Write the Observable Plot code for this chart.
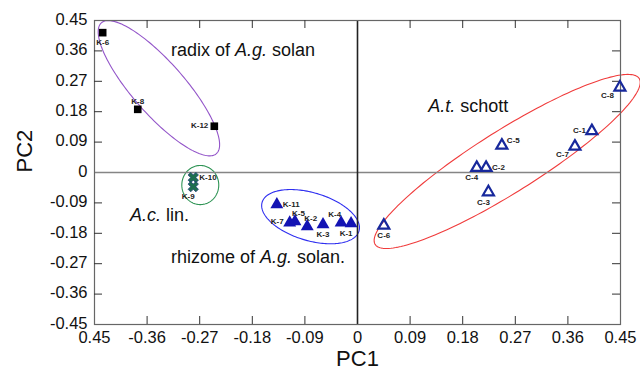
<!DOCTYPE html>
<html><head><meta charset="utf-8">
<script src="https://cdn.jsdelivr.net/npm/d3@7"></script>
<script src="https://cdn.jsdelivr.net/npm/@observablehq/plot@0.6"></script>
<style>body{margin:0;background:#fff} svg{display:block}</style>
</head><body><div id="chart"></div>
<script>
// ---- tick values and labels (first x label is "0.45" in the original) ----
const xTicks = [-0.45,-0.36,-0.27,-0.18,-0.09,0,0.09,0.18,0.27,0.36,0.45];
const xTickLabels = ["0.45","-0.36","-0.27","-0.18","-0.09","0","0.09","0.18","0.27","0.36","0.45"];
const yTicks = [-0.45,-0.36,-0.27,-0.18,-0.09,0,0.09,0.18,0.27,0.36,0.45];
const yTickLabels = ["-0.45","-0.36","-0.27","-0.18","-0.09","0","0.09","0.18","0.27","0.36","0.45"];

// ---- samples ----
const radixNames = ["K-6","K-8","K-12"];
const radixPC1 = [-0.436,-0.376,-0.245];
const radixPC2 = [0.414,0.187,0.137];

const acNames = ["K-10","K-9"];
const acPC1 = [-0.281,-0.281];
const acPC2 = [-0.015,-0.042];

const rhizomeNames = ["K-11","K-7","K-5","K-2","K-3","K-4","K-1"];
const rhizomePC1 = [-0.138,-0.116,-0.107,-0.086,-0.059,-0.028,-0.011];
const rhizomePC2 = [-0.095,-0.149,-0.145,-0.160,-0.154,-0.149,-0.151];

const atNames = ["C-6","C-3","C-4","C-2","C-5","C-7","C-1","C-8"];
const atPC1 = [0.045,0.224,0.204,0.220,0.247,0.372,0.401,0.449];
const atPC2 = [-0.157,-0.058,0.014,0.014,0.080,0.077,0.123,0.252];

// where each sample label sits relative to its marker
const labelPlace = {
  "K-6":"below","K-8":"above","K-12":"left","K-10":"right","K-9":"sw",
  "K-11":"right","K-7":"left","K-5":"n","K-2":"n","K-3":"below","K-4":"nw","K-1":"sw",
  "C-6":"below","C-3":"sw","C-4":"sw","C-2":"right","C-5":"ne","C-7":"swEnd","C-1":"left","C-8":"swEnd"
};

// ---- group ellipses: centre, half-axis vectors (data units) ----
const ellipseNames = ["radix","Ac","rhizome","At"];
const ellipseCX = [-0.3398,-0.269,-0.0803,0.2561];
const ellipseCY = [0.2495,-0.0371,-0.1307,0.0327];
const ellipseU = [[0.0984,-0.1936],[0.0316,0],[0.0829,-0.0425],[0.2259,0.2456]];
const ellipseV = [[-0.0333,-0.0511],[0,0.0579],[-0.0115,-0.0681],[0.0281,-0.0781]];
const ellipseColors = ["#9355c9","#2f9455","#2f2ff0","#f03c3c"];

// ---- group labels ----
const groupText = ["radix of *A.g.* solan","*A.t.* schott","*A.c.* lin.","rhizome of *A.g.* solan."];
const groupPC1 = [-0.3193,0.1212,-0.3893,-0.3193];
const groupPC2 = [0.3609,0.196,-0.1277,-0.2495];

// ---- build tables ----
const mk = (names, xs, ys) => names.map((n,i)=>({name:n, x:xs[i], y:ys[i], place:labelPlace[n]}));
const radix = mk(radixNames, radixPC1, radixPC2);
const ac = mk(acNames, acPC1, acPC2);
const rhizome = mk(rhizomeNames, rhizomePC1, rhizomePC2);
const at = mk(atNames, atPC1, atPC2);
const allPts = [...radix, ...ac, ...rhizome, ...at];

const ellipseOutline = i => d3.range(0, 361, 2).map(a => {
  const t = a*Math.PI/180, c = Math.cos(t), s = Math.sin(t);
  return {x: ellipseCX[i] + c*ellipseU[i][0] + s*ellipseV[i][0],
          y: ellipseCY[i] + c*ellipseU[i][1] + s*ellipseV[i][1]};
});

const xSymbol = {draw(ctx, size){
  const r = Math.sqrt(size/5)/2, k = Math.SQRT1_2;
  const p = [[-3*r,-r],[-r,-r],[-r,-3*r],[r,-3*r],[r,-r],[3*r,-r],[3*r,r],[r,r],[r,3*r],[-r,3*r],[-r,r],[-3*r,r]];
  p.forEach(([x,y],i)=>{const X=(x-y)*k, Y=(x+y)*k; i?ctx.lineTo(X,Y):ctx.moveTo(X,Y);});
  ctx.closePath();
}};

const places = {
  below:{textAnchor:"middle",dx:0,dy:10},
  above:{textAnchor:"middle",dx:0,dy:-8},
  left:{textAnchor:"end",dx:-6,dy:-1},
  right:{textAnchor:"start",dx:6,dy:0},
  n:{textAnchor:"start",dx:-3,dy:-8},
  ne:{textAnchor:"start",dx:5,dy:-5},
  nw:{textAnchor:"end",dx:0,dy:-8},
  sw:{textAnchor:"middle",dx:-5,dy:10},
  swEnd:{textAnchor:"end",dx:-6,dy:8}
};

const FONT = "Arial, 'Liberation Sans', Helvetica, sans-serif";
const inner = xTicks.filter(v => Math.abs(v) < 0.449 && v !== 0);
const innerY = yTicks.filter(v => Math.abs(v) < 0.449 && v !== 0);
const W = 640, H = 378, ML = 94, MR = 20, MT = 20, MB = 54;
const PW = W-ML-MR, PH = H-MT-MB;

const marks = [];
ellipseNames.forEach((n,i) => marks.push(Plot.line(ellipseOutline(i), {x:"x", y:"y", stroke: ellipseColors[i], strokeWidth: 1.1})));
marks.push(
  Plot.ruleY([0], {stroke:"#858585", strokeWidth:1.7}),
  Plot.ruleX([0], {stroke:"#222", strokeWidth:1.6}),
  Plot.frame({stroke:"#666", strokeWidth:1.2}),
  Plot.tickX(inner, {x:d=>d, insetTop: PH-8, stroke:"#333"}),
  Plot.tickX(inner, {x:d=>d, insetBottom: PH-8, stroke:"#333"}),
  Plot.tickY(innerY, {y:d=>d, insetRight: PW-8, stroke:"#333"}),
  Plot.tickY(innerY, {y:d=>d, insetLeft: PW-8, stroke:"#333"}),
  Plot.text(xTicks.map((v,i)=>({v, t:xTickLabels[i]})), {x:"v", text:"t", frameAnchor:"bottom", dy:18, fontSize:16.5, fill:"#111"}),
  Plot.text(yTicks.map((v,i)=>({v, t:yTickLabels[i]})), {y:"v", text:"t", frameAnchor:"left", dx:-7, dy:-1, textAnchor:"end", fontSize:16.5, fill:"#111"}),
  Plot.text(["PC1"], {frameAnchor:"bottom", dy:41, fontSize:22, fill:"#111"}),
  Plot.text(["PC2"], {frameAnchor:"left", dx:-70, rotate:-90, fontSize:22, fill:"#111"}),
  Plot.dot(radix, {x:"x", y:"y", symbol:"square", r:4.3, fill:"#000"}),
  Plot.dot(ac, {x:"x", y:"y", symbol:xSymbol, r:4.6, fill:"#1e6e4e", stroke:"#1f3f7a", strokeWidth:0.8}),
  Plot.dot(rhizome, {x:"x", y:"y", symbol:"triangle", r:4.8, fill:"#1313b3"}),
  Plot.dot(at, {x:"x", y:"y", symbol:"triangle", r:4.1, fill:"none", stroke:"#17289c", strokeWidth:2.2}),
  Plot.text(groupText.map((t,i)=>({t, x:groupPC1[i], y:groupPC2[i]})), {x:"x", y:"y", text:"t", textAnchor:"start", fontSize:18, fill:"#111"})
);
Object.entries(places).forEach(([k,o]) => {
  marks.push(Plot.text(allPts.filter(p=>p.place===k), {x:"x", y:"y", text:"name", fontSize:8, fontWeight:"bold", fill:"#222", ...o}));
});

const chart = Plot.plot({
  width: W, height: H, marginLeft: ML, marginRight: MR, marginTop: MT, marginBottom: MB,
  x: {domain:[-0.45,0.45], axis:null},
  y: {domain:[-0.45,0.45], axis:null},
  style: {fontFamily: FONT, background:"#fff", overflow:"visible"},
  marks
});
// italicise the *...* parts of group labels as tspans
chart.querySelectorAll("text").forEach(el => {
  const s = el.textContent;
  if (!s.includes("*")) return;
  el.textContent = "";
  s.split("*").forEach((part,i) => {
    if (!part) return;
    const ts = document.createElementNS("http://www.w3.org/2000/svg","tspan");
    if (i % 2 === 1) ts.setAttribute("font-style","italic");
    ts.textContent = part;
    el.appendChild(ts);
  });
});
document.getElementById("chart").appendChild(chart);
</script>
</body></html>
